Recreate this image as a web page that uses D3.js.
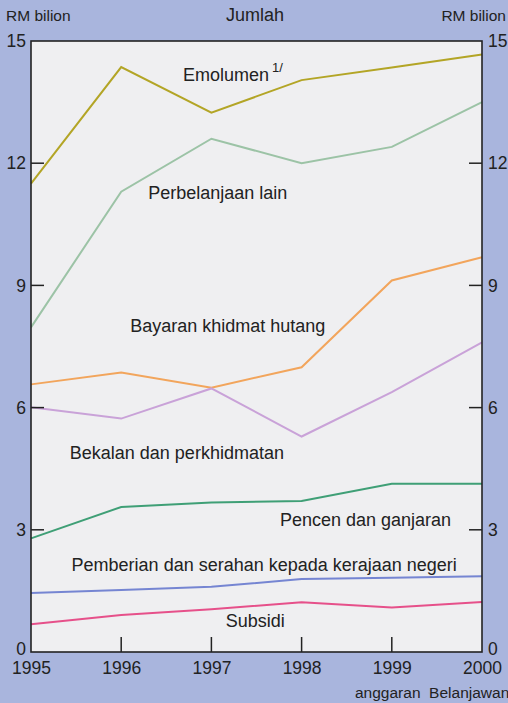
<!DOCTYPE html>
<html>
<head>
<meta charset="utf-8">
<script src="https://cdn.jsdelivr.net/npm/d3@7"></script>
<style>
  body { margin: 0; background: #a9b5dd; }
  svg { display: block; font-family: "Liberation Sans", Arial, sans-serif; }
</style>
</head>
<body>
<svg id="chart"></svg>
<script>
const width = 508;
const height = 703;

// data (RM bilion)
const years = [1995, 1996, 1997, 1998, 1999, 2000];
const emolumen = [11.5, 14.36, 13.24, 14.04, 14.35, 14.67];
const perbelanjaanLain = [7.97, 11.3, 12.6, 12.0, 12.4, 13.5];
const bayaranHutang = [6.57, 6.86, 6.49, 6.99, 9.12, 9.69];
const bekalan = [6.01, 5.73, 6.47, 5.29, 6.38, 7.6];
const pencen = [2.79, 3.56, 3.67, 3.71, 4.13, 4.13];
const pemberian = [1.45, 1.52, 1.6, 1.79, 1.82, 1.86];
const subsidi = [0.68, 0.91, 1.05, 1.22, 1.09, 1.23];
const yTicks = [0, 3, 6, 9, 12, 15];

// label anchors are given in data units (year, RM bilion)
const series = [
    { name: "Emolumen", values: emolumen, color: "#b3a526", lx: 1996.685, ly: 14.02, sup: "1/" },
    { name: "Perbelanjaan lain", values: perbelanjaanLain, color: "#9cc3a6", lx: 1996.3, ly: 11.12 },
    { name: "Bayaran khidmat hutang", values: bayaranHutang, color: "#f2a55c", lx: 1996.1, ly: 7.86 },
    { name: "Bekalan dan perkhidmatan", values: bekalan, color: "#c9a2d8", lx: 1995.43, ly: 4.74 },
    { name: "Pencen dan ganjaran", values: pencen, color: "#3f9f76", lx: 1997.76, ly: 3.09 },
    { name: "Pemberian dan serahan kepada kerajaan negeri", values: pemberian, color: "#7585d2", lx: 1995.45, ly: 1.99 },
    { name: "Subsidi", values: subsidi, color: "#e6508a", lx: 1997.16, ly: 0.61 }
];

const margin = { top: 41, right: 26, bottom: 51, left: 31 };
const svg = d3.select("#chart").attr("width", width).attr("height", height);

const x = d3.scaleLinear().domain([1995, 2000]).range([margin.left, width - margin.right]);
const y = d3.scaleLinear().domain([0, 15]).range([height - margin.bottom, margin.top]);

svg.append("rect").attr("width", width).attr("height", height).attr("fill", "#a9b5dd");

// plot panel
svg.append("rect")
    .attr("x", x(1995)).attr("y", y(15))
    .attr("width", x(2000) - x(1995)).attr("height", y(0) - y(15))
    .attr("fill", "#efeff1");

// lines
const line = d3.line().x((d, i) => x(years[i])).y(d => y(d));
svg.selectAll(".series").data(series).enter().append("path")
    .attr("class", "series")
    .attr("d", d => line(d.values))
    .attr("fill", "none")
    .attr("stroke", d => d.color)
    .attr("stroke-width", 2)
    .attr("stroke-linejoin", "miter");

// series labels
const lbl = svg.selectAll(".lbl").data(series).enter().append("text")
    .attr("class", "lbl")
    .attr("x", d => x(d.lx))
    .attr("y", d => y(d.ly))
    .attr("font-size", 18)
    .attr("fill", "#222")
    .text(d => d.name);
lbl.filter(d => d.sup).append("tspan")
    .attr("dx", 3).attr("dy", -9).attr("font-size", 13)
    .text(d => d.sup);

// axes
const left = d3.axisLeft(y).tickValues(yTicks).tickSize(0).tickPadding(5);
const right = d3.axisRight(y).tickValues(yTicks).tickSize(0).tickPadding(6);
const bottom = d3.axisBottom(x).tickValues(years).tickFormat(d3.format("d")).tickSize(0).tickPadding(10);

function styleAxis(g) {
    g.select(".domain").remove();
    g.selectAll("text").attr("font-size", 17.5).attr("fill", "#222")
        .attr("font-family", "Liberation Sans, Arial, sans-serif");
    // lift the zero label a little so it sits above the year labels
    g.selectAll(".tick").filter(d => d === 0).select("text").attr("dy", "0.15em");
}

svg.append("g").attr("transform", `translate(${x(1995)},0)`).call(left).call(styleAxis);
svg.append("g").attr("transform", `translate(${x(2000)},0)`).call(right).call(styleAxis);
svg.append("g").attr("transform", `translate(0,${y(0)})`).call(bottom)
    .call(g => { g.select(".domain").remove(); g.selectAll("text").attr("font-size", 17.5).attr("fill", "#222"); });

// inward tick marks
const inner = yTicks.filter(v => v > 0 && v < 15);
svg.selectAll(".ltick").data(inner).enter().append("line")
    .attr("x1", x(1995)).attr("x2", x(1995) + 13)
    .attr("y1", d => y(d)).attr("y2", d => y(d))
    .attr("stroke", "#222").attr("stroke-width", 1.5);
svg.selectAll(".rtick").data(inner).enter().append("line")
    .attr("x1", x(2000)).attr("x2", x(2000) - 13)
    .attr("y1", d => y(d)).attr("y2", d => y(d))
    .attr("stroke", "#222").attr("stroke-width", 1.5);
svg.selectAll(".btick").data(years.slice(1, -1)).enter().append("line")
    .attr("x1", d => x(d)).attr("x2", d => x(d))
    .attr("y1", y(0)).attr("y2", y(0) - 15)
    .attr("stroke", "#222").attr("stroke-width", 1.5);

// frame
svg.append("rect")
    .attr("x", x(1995)).attr("y", y(15))
    .attr("width", x(2000) - x(1995)).attr("height", y(0) - y(15))
    .attr("fill", "none").attr("stroke", "#222").attr("stroke-width", 1.6);

// header texts
svg.append("text").attr("x", 6).attr("y", 21).attr("font-size", 15.5).attr("fill", "#222").text("RM bilion");
svg.append("text").attr("x", width - 2).attr("y", 21).attr("font-size", 15.5).attr("fill", "#222")
    .attr("text-anchor", "end").text("RM bilion");
svg.append("text").attr("x", 255).attr("y", 21).attr("font-size", 18).attr("fill", "#222")
    .attr("text-anchor", "middle").text("Jumlah");

// footer note (runs past the right edge as in the original)
svg.append("text").attr("x", 355).attr("y", 698).attr("font-size", 15.5).attr("fill", "#222")
    .attr("xml:space", "preserve").text("anggaran  Belanjawan");
</script>
</body>
</html>
